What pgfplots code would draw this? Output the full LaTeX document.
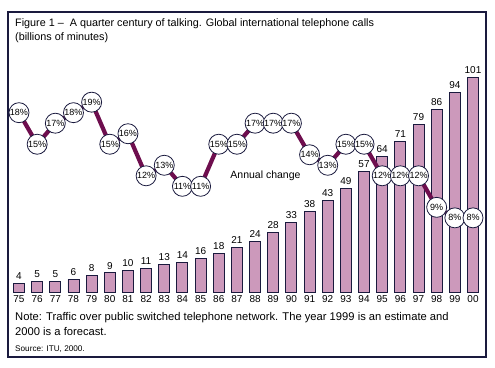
\documentclass[border=0pt]{standalone}
\usepackage{pgfplots}
\pgfplotsset{compat=1.18}
\usepackage{fontspec}
\setmainfont{Liberation Sans}
\definecolor{barfill}{HTML}{CC99BB}
\definecolor{edge}{HTML}{1A1A3E}
\definecolor{linec}{HTML}{6E0E4E}
\pgfplotsset{/pgf/number format/assume math mode=true}
\begin{document}
\begin{tikzpicture}
\useasboundingbox (0pt,0pt) rectangle (495pt,367pt);
\draw[edge, line width=1.1pt] (8pt,10pt) rectangle (486pt,355pt);
\node[anchor=west, font=\fontsize{10.8}{14}\selectfont, align=left, inner sep=0pt] at (15pt,336pt) {Figure 1 –\ \ A quarter century of talking. Global international telephone calls\\(billions of minutes)};
\node[anchor=west, font=\fontsize{11.2}{15}\selectfont, align=left, inner sep=0pt] at (15pt,43pt) {Note: Traffic over public switched telephone network. The year 1999 is an estimate and\\2000 is a forecast.};
\node[anchor=west, font=\fontsize{8.2}{9}\selectfont, inner sep=0pt] at (15pt,18pt) {Source: ITU, 2000.};
\begin{axis}[at={(8.1pt,75pt)}, anchor=south west, scale only axis,
  width=475.8pt, height=254.4pt,
  xmin=-0.6, xmax=25.6, ymin=0, ymax=120,
  axis line style={draw=none}, xtick style={draw=none}, ytick=\empty,
  xtick={0,...,25},
  xticklabels={75,76,77,78,79,80,81,82,83,84,85,86,87,88,89,90,91,92,93,94,95,96,97,98,99,00},
  xticklabel style={font=\fontsize{10}{10}\selectfont},
  clip=false]
\addplot[ybar, bar width=11pt, fill=barfill, draw=edge, line width=0.9pt,
  nodes near coords, every node near coord/.append style={font=\fontsize{10}{10}\selectfont, text=black}]
  coordinates {(0,4) (1,5) (2,5) (3,6) (4,8) (5,9) (6,10) (7,11) (8,13) (9,14) (10,16) (11,18) (12,21) (13,24) (14,28) (15,33) (16,38) (17,43) (18,49) (19,57) (20,64) (21,71) (22,79) (23,86) (24,94) (25,101)};
\node[anchor=west, font=\fontsize{10.5}{11}\selectfont] at (axis cs:11.45,54.7) {Annual change};
\end{axis}
\begin{axis}[at={(8.1pt,75pt)}, anchor=south west, scale only axis,
  width=475.8pt, height=254.4pt,
  xmin=-0.6, xmax=25.6, ymin=0.95, ymax=25.14, hide axis, clip=false]
\addplot[linec, line width=4.2pt, mark=none,
  nodes near coords={\pgfmathprintnumber{\pgfplotspointmeta}\%},
  nodes near coords align=center,
  every node near coord/.style={circle, draw=edge, fill=white, line width=0.8pt, minimum size=20pt, inner sep=0pt, text=black, font=\fontsize{9}{9}\selectfont, anchor=center}]
  coordinates {(0,18) (1,15) (2,17) (3,18) (4,19) (5,15) (6,16) (7,12) (8,13) (9,11) (10,11) (11,15) (12,15) (13,17) (14,17) (15,17) (16,14) (17,13) (18,15) (19,15) (20,12) (21,12) (22,12) (23,9) (24,8) (25,8)};
\end{axis}
\end{tikzpicture}
\end{document}
